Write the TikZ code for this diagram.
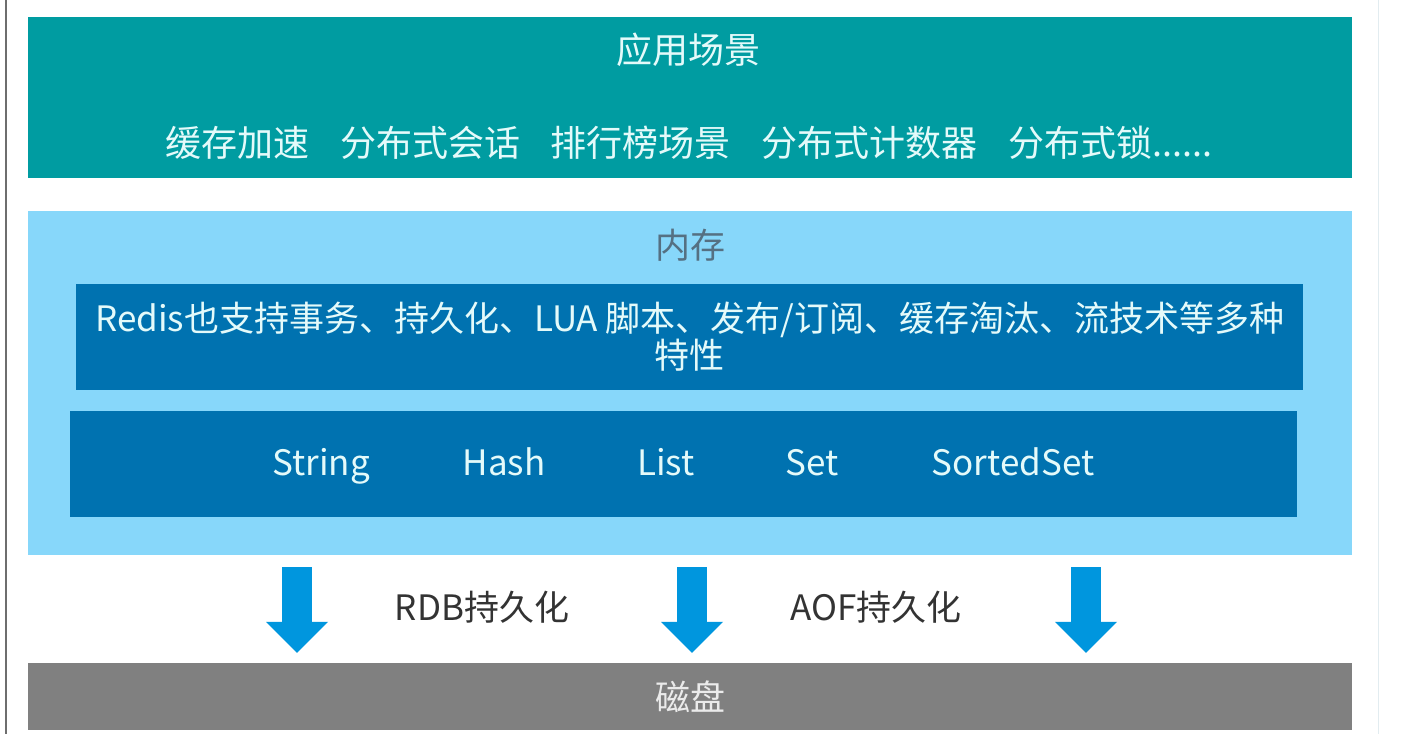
\documentclass[tikz,border=0pt]{standalone}
\usepackage{fontspec}
\setmainfont{Noto Sans CJK SC}
\usetikzlibrary{arrows.meta}
\definecolor{appteal}{RGB}{0,156,161}
\definecolor{memblue}{RGB}{135,215,250}
\definecolor{bandblue}{RGB}{0,114,176}
\definecolor{flowblue}{RGB}{0,150,222}
\definecolor{diskgray}{RGB}{128,128,128}
\definecolor{memtext}{RGB}{85,112,130}
\definecolor{lighttext}{RGB}{228,250,250}
\definecolor{edgegray}{RGB}{110,110,110}
\definecolor{paleedge}{RGB}{226,236,240}
\tikzset{layer/.style={rectangle, inner sep=0pt, minimum width=1324pt}}
\tikzset{band/.style={rectangle, inner sep=0pt, fill=bandblue, minimum width=1227pt, minimum height=106pt}}
\tikzset{boxtext/.style={inner sep=0pt, text=lighttext, font=\fontsize{35}{37}\selectfont}}
\tikzset{typetext/.style={boxtext, anchor=base}}
\tikzset{flow/.style={draw=flowblue, line width=30pt,
      -{Triangle[width=62pt,length=31pt,line width=0pt]}}}
\newcommand{\gap}{\hspace{0.85em}}

\begin{document}
\begin{tikzpicture}[x=1pt,y=-1pt]
    \useasboundingbox[fill=white] (0,0) rectangle (1401,734);
    \draw[line width=2pt, edgegray] (6,0) -- (6,734);
    \draw[line width=1pt, paleedge] (1378,0) -- (1378,734);

    % application layer
    \node[layer, fill=appteal, minimum height=161pt] (app) at (690,97.5) {};
    \node[boxtext, font=\fontsize{36}{38}\selectfont] (apptitle) at (688,50) {应用场景};
    \node[boxtext, font=\fontsize{36}{38}\selectfont] (applist) at (689,143)
      {缓存加速\gap 分布式会话\gap 排行榜场景\gap 分布式计数器\gap 分布式锁......};

    % memory layer
    \node[layer, fill=memblue, minimum height=344pt] (mem) at (690,383) {};
    \node[boxtext, text=memtext] (memtitle) at (690,245) {内存};
    \node[band] (feat) at (689.5,337) {};
    \node[boxtext, align=center] (feattext) at (690,336.5)
      {Redis也支持事务、持久化、LUA 脚本、发布/订阅、缓存淘汰、流技术等多种\\特性};
    \node[band] (types) at (683.5,464) {};
    \node[typetext] (string) at (321,475) {String};
    \node[typetext] (hash) at (504,475) {Hash};
    \node[typetext] (list) at (666,475) {List};
    \node[typetext] (set) at (812,475) {Set};
    \node[typetext] (sortedset) at (1013,475) {SortedSet};

    % disk
    \node[layer, fill=diskgray, minimum height=67pt] (disk) at (690,696.5) {};
    \node[boxtext, text=white!92!black] (disktext) at (690,697) {磁盘};

    % persistence
    \foreach \dx in {-393,2,396}
      \draw[flow] ([xshift=\dx pt, yshift=-12pt]mem.south) -- ([xshift=\dx pt, yshift=10pt]disk.north);
    \node[boxtext, text=black!80] (rdb) at (482,607) {RDB持久化};
    \node[boxtext, text=black!80] (aof) at (876,607) {AOF持久化};
\end{tikzpicture}
\end{document}
